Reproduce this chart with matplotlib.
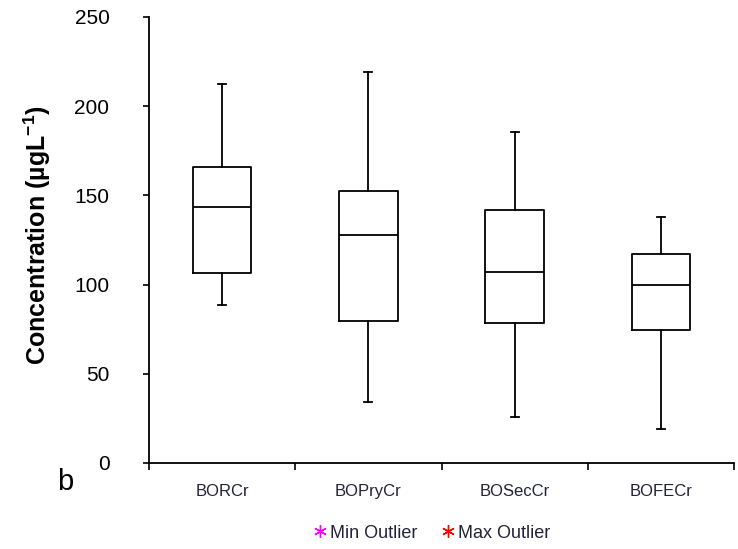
import matplotlib
matplotlib.use("Agg")
import matplotlib.pyplot as plt
from matplotlib.lines import Line2D

plt.rcParams['font.family'] = ['Liberation Sans', 'DejaVu Sans']
plt.rcParams['mathtext.fontset'] = 'custom'
plt.rcParams['mathtext.bf'] = 'Liberation Sans:bold'
plt.rcParams['mathtext.rm'] = 'Liberation Sans'

# box stats (ug/L)
sites = ['BORCr', 'BOPryCr', 'BOSecCr', 'BOFECr']
whislo = [88.4, 34.0, 26.0, 19.2]
q1 = [106.7, 79.4, 78.6, 74.4]
med = [143.7, 128.0, 107.2, 100.0]
q3 = [165.7, 152.5, 141.8, 117.0]
whishi = [212.4, 219.2, 185.4, 137.7]

stats = []
for i, name in enumerate(sites):
    stats.append(dict(label=name, whislo=whislo[i], q1=q1[i], med=med[i],
                      q3=q3[i], whishi=whishi[i], fliers=[]))

fig = plt.figure(figsize=(7.38, 5.49), dpi=100)
ax = fig.add_axes([149 / 738, 1 - 463 / 549, 585 / 738, 446 / 549])

lw = 1.3
pos = list(range(1, len(sites) + 1))
ax.bxp(stats, positions=pos, widths=0.4, capwidths=0.055, showfliers=False,
       boxprops=dict(color='black', linewidth=lw),
       whiskerprops=dict(color='black', linewidth=lw),
       capprops=dict(color='black', linewidth=lw),
       medianprops=dict(color='black', linewidth=lw),
       manage_ticks=False)

ax.set_xlim(0.5, len(sites) + 0.5)
ax.set_ylim(0, 250)
ax.set_yticks([0, 50, 100, 150, 200, 250])
ax.tick_params(axis='y', labelsize=15, length=4.5, width=1.2, pad=24)

# labels in the middle, tick marks on the category boundaries
txt = '#22223a'
ax.set_xticks(pos)
ax.set_xticklabels(sites, fontsize=12, color=txt)
ax.tick_params(axis='x', which='major', length=0, pad=15)
ax.set_xticks([p + 0.5 for p in [0] + pos], minor=True)
ax.tick_params(axis='x', which='minor', length=5, width=1.2)

for s in ['top', 'right']:
    ax.spines[s].set_visible(False)
for s in ['left', 'bottom']:
    ax.spines[s].set_linewidth(1.3)

ax.set_ylabel('Concentration (µgL$^{\\mathbf{-1}}$)', fontsize=18,
              fontweight='bold')
ax.yaxis.set_label_coords(-0.164, 0.51)

fig.text(65 / 738, 1 - 482 / 549, 'b', fontsize=21, va='center', ha='center')

handles = [Line2D([], [], ls='none', marker=(6, 2, 0), color='magenta', markersize=9),
           Line2D([], [], ls='none', marker=(6, 2, 0), color='red', markersize=9)]
fig.legend(handles, ['Min Outlier', 'Max Outlier'], loc='center',
           bbox_to_anchor=(431 / 738, 1 - 533 / 549), ncol=2, frameon=False,
           fontsize=13, handletextpad=0.05, columnspacing=1.2, handlelength=1.0,
           labelcolor=txt)

fig.savefig('out.png', dpi=100)
